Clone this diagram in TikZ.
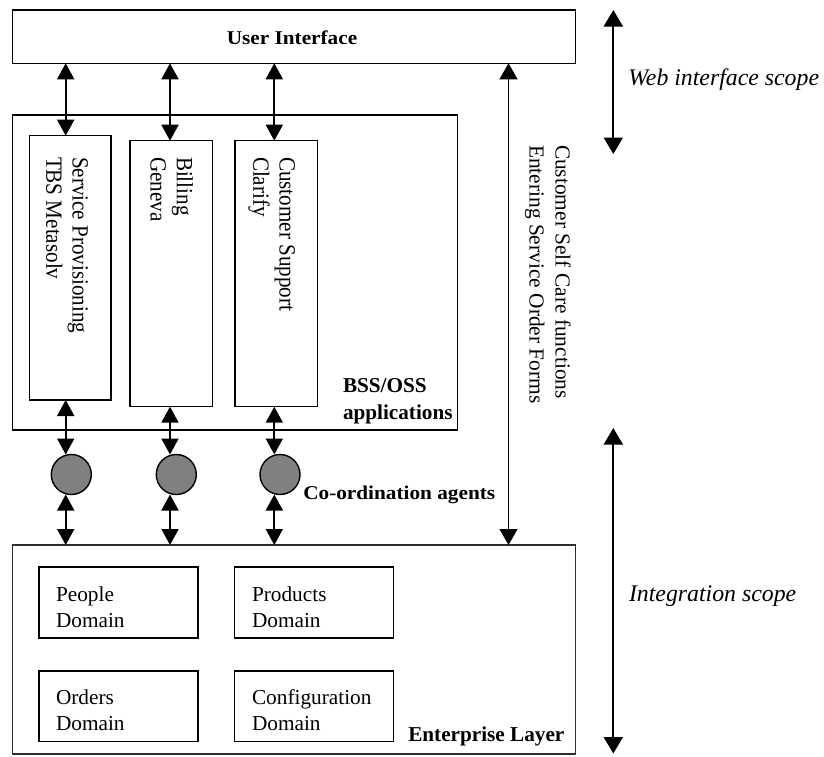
\documentclass[tikz,border=0pt]{standalone}
\usepackage{fontspec}
\setmainfont{Liberation Serif}
\usetikzlibrary{arrows.meta}
\definecolor{agentgray}{RGB}{128,128,128}
\definecolor{edgegray}{RGB}{45,45,45}
\begin{document}
\begin{tikzpicture}[x=1pt,y=-1pt,
  box/.style={draw, line width=1.4pt, inner sep=0pt, outer sep=0pt, anchor=north west},
  agent/.style={circle, draw, line width=1.4pt, fill=agentgray, minimum size=40pt, inner sep=0pt, outer sep=0pt},
  dbl/.style={line width=1.8pt, {Triangle[width=17pt,length=16pt]}-{Triangle[width=17pt,length=16pt]}},
  thindbl/.style={line width=1.1pt, {Triangle[width=18pt,length=16pt]}-{Triangle[width=18pt,length=16pt]}},
  scopearrow/.style={line width=1.9pt, {Triangle[width=19pt,length=16.5pt]}-{Triangle[width=19pt,length=16.5pt]}},
  htext/.style={inner sep=0pt, outer sep=0pt, align=left, anchor=north west, font=\fontsize{21.3pt}{26pt}\selectfont},
  hbold/.style={htext, font=\fontsize{21.2pt}{27pt}\selectfont\bfseries},
  hboldwide/.style={inner sep=0pt, outer sep=0pt, xscale=1.09, font=\fontsize{19.5pt}{24pt}\selectfont\bfseries},
  vtext/.style={inner sep=0pt, outer sep=0pt, xscale=1.1, rotate=-90, anchor=north west, align=left, font=\fontsize{21.1pt}{23.8pt}\selectfont},
  sidetext/.style={inner sep=0pt, outer sep=0pt, rotate=-90, anchor=north west, align=left, font=\fontsize{21.4pt}{26pt}\selectfont},
  scopetext/.style={inner sep=0pt, outer sep=0pt, anchor=base west, font=\fontsize{23.8pt}{28pt}\selectfont\itshape}
]
\useasboundingbox (0,0) rectangle (824,756);

% boxes
\node[box, minimum width=563pt, minimum height=53.3pt] (ui) at (12.7,10) {};
\node[box, minimum width=444.8pt, minimum height=315pt] (bss) at (12.7,115) {};
\node[box, minimum width=81.7pt, minimum height=264.3pt] (sp) at (29.3,135.7) {};
\node[box, minimum width=82.3pt, minimum height=266pt] (bill) at (130,140.7) {};
\node[box, minimum width=82.7pt, minimum height=266pt] (cust) at (235,140.7) {};
\node[box, draw=edgegray, line width=1.3pt, minimum width=562.8pt, minimum height=209pt] (ent) at (12.7,545) {};
\node[box, minimum width=159pt, minimum height=71pt] (people) at (39,567) {};
\node[box, minimum width=159pt, minimum height=71pt] (products) at (234.3,567) {};
\node[box, minimum width=159pt, minimum height=70.5pt] (orders) at (39,671) {};
\node[box, minimum width=159pt, minimum height=70.5pt] (config) at (234.3,671) {};

% agents
\node[agent] (a1) at (71.3,474.5) {};
\node[agent] (a2) at (176.3,474.5) {};
\node[agent] (a3) at (280,474.5) {};

% column coordinates
\coordinate (c1) at (65.7,0);
\coordinate (c2) at (170,0);
\coordinate (c3) at (274.3,0);
\coordinate (c4) at (508.5,0);
\coordinate (w1) at (613.3,10);
\coordinate (w2) at (613.3,154);
\coordinate (i1) at (613.3,428);
\coordinate (i2) at (613.3,753.5);

% texts
\node[hboldwide, anchor=base] (uitext) at (292,44) {User Interface};
\node[vtext] (sptext) at (88,157) {Service Provisioning\\TBS Metasolv};
\node[vtext] (billtext) at (193,157) {Billing\\Geneva};
\node[vtext] (custtext) at (295,157) {Customer Support\\Clarify};
\node[hbold] (bsstext) at (343,378.5) {BSS/OSS\\applications};
\node[hboldwide, anchor=base west] (agtext) at (303.3,499) {Co-ordination agents};
\node[htext] (peopletext) at (56,587) {People\\Domain};
\node[htext] (productstext) at (252,587) {Products\\Domain};
\node[htext] (orderstext) at (56,690) {Orders\\Domain};
\node[htext] (configtext) at (252,689.5) {Configuration\\Domain};
\node[hbold, anchor=base west] (enttext) at (408.3,741.7) {Enterprise Layer};
\node[sidetext] (selfcare) at (570.6,145) {Customer Self Care functions\\Entering Service Order Forms};
\node[scopetext] (webscope) at (628.3,85) {Web interface scope};
\node[scopetext] (intscope) at (629,601.7) {Integration scope};

% connectors
\draw[dbl] (ui.south -| c1) -- (sp.north -| c1);
\draw[dbl] (ui.south -| c2) -- (bill.north -| c2);
\draw[dbl] (ui.south -| c3) -- (cust.north -| c3);
\draw[dbl] (sp.south -| c1) -- (a1.north -| c1);
\draw[dbl] (bill.south -| c2) -- (a2.north -| c2);
\draw[dbl] (cust.south -| c3) -- (a3.north -| c3);
\draw[dbl] (a1.south -| c1) -- (ent.north -| c1);
\draw[dbl] (a2.south -| c2) -- (ent.north -| c2);
\draw[dbl] (a3.south -| c3) -- (ent.north -| c3);
\draw[thindbl] (ent.north -| c4) -- (ui.south -| c4);
\draw[scopearrow] (w1) -- (w2);
\draw[scopearrow] (i1) -- (i2);
\end{tikzpicture}
\end{document}
